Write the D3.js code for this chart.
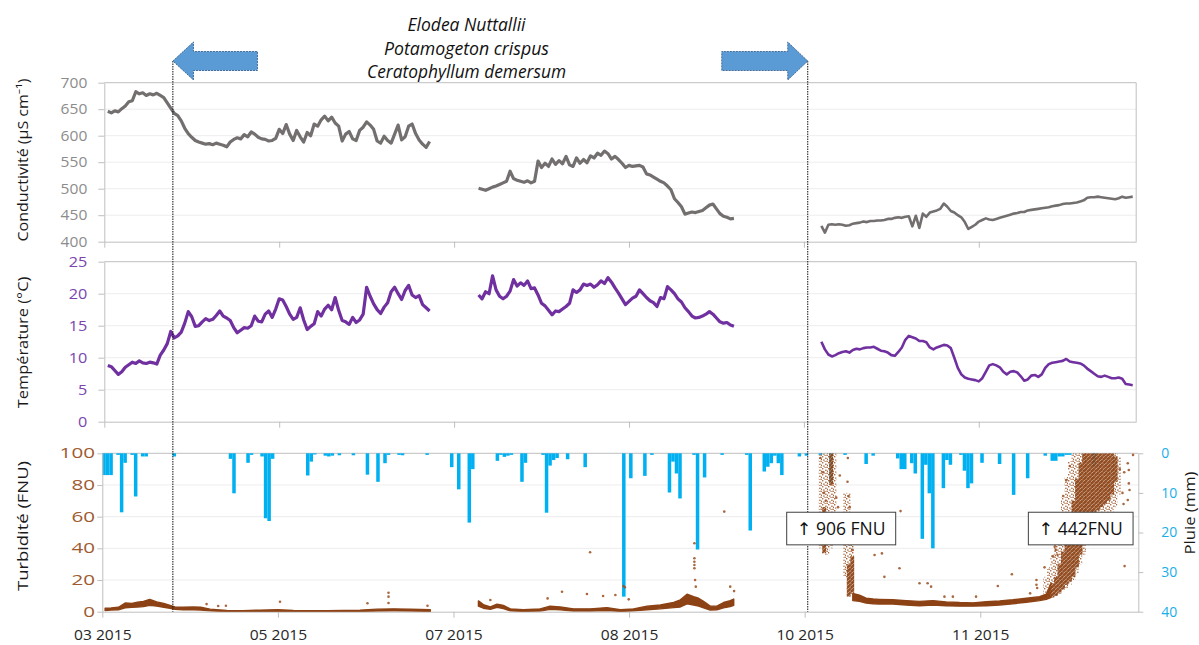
<!DOCTYPE html>
<html>
<head>
<meta charset="utf-8">
<script src="https://cdn.jsdelivr.net/npm/d3@7"></script>
<style>
html,body{margin:0;padding:0;background:#ffffff;}
svg{display:block;}
</style>
</head>
<body>
<svg id="chart" width="1199" height="645"></svg>
<script>
// ================= DATA =================
// x position expressed in days from the start of the axis
const xTickDays = [0, 50, 100, 150, 200, 250];
const xTickLabels = ["03 2015", "05 2015", "07 2015", "08 2015", "10 2015", "11 2015"];
const condTicks = [400, 450, 500, 550, 600, 650, 700];
const tempTicks = [0, 5, 10, 15, 20, 25];
const turbTicks = [0, 20, 40, 60, 80, 100];
const rainTicks = [0, 10, 20, 30, 40];

// Conductivity (µS/cm), one value per day, three segments
const condStart = [1, 107, 205];
const condSeg1 = [646,643,647,645,651,656,664,666,683,679,
  681,676,679,677,680,676,672,662,652,642,
  638,628,614,604,597,591,588,586,584,585,
  583,586,584,582,579,588,593,596,594,602,
  598,607,603,597,594,593,590,591,595,612,
  604,621,603,591,610,598,588,606,600,622,
  618,630,637,628,635,624,618,590,603,608,
  594,591,610,616,626,620,612,590,586,599,
  591,586,603,620,592,598,618,622,604,592,
  584,578,589];
const condSeg2 = [501,499,497,500,503,505,508,511,514,533,
  519,516,514,512,515,511,514,552,540,548,
  542,556,546,553,547,561,545,542,558,548,
  555,549,562,558,567,563,571,566,556,561,
  555,548,540,544,542,543,544,541,528,526,
  522,518,514,511,505,498,481,474,466,452,
  454,456,455,457,459,464,469,471,462,453,
  448,446,443,444];
const condSeg3 = [430,417,432,433,432,433,432,430,431,434,
  435,436,438,437,439,439,440,440,441,443,
  443,445,446,445,447,448,429,449,426,453,
  447,455,457,459,462,472,466,458,455,450,
  446,437,424,428,432,438,441,444,442,441,
  443,445,447,449,451,453,454,456,456,459,
  460,461,462,463,464,465,467,468,469,471,
  472,472,473,474,476,478,483,484,484,485,
  484,483,482,481,480,482,485,483,484,485];

// Temperature (°C), one value per day, three segments
const tempStart = [1, 107, 205];
const tempSeg1 = [8.8,8.6,8.0,7.4,7.8,8.5,8.9,9.3,9.1,9.5,
  9.2,9.1,9.3,9.2,9.0,10.4,11.2,12.2,14.1,13.1,
  13.4,14.0,15.4,17.2,16.4,14.9,15.0,15.6,16.1,15.8,
  16.0,16.6,17.3,16.5,16.2,15.8,14.7,13.9,14.3,14.7,
  14.6,15.0,16.5,15.7,15.6,16.8,17.3,16.3,17.6,19.2,
  19.0,18.0,16.8,16.0,16.3,17.8,15.9,14.4,14.9,15.3,
  17.2,16.5,17.6,18.2,17.5,19.4,17.4,15.8,15.6,15.2,
  16.3,15.5,15.9,16.8,21.0,19.6,18.4,17.5,16.9,17.9,
  18.6,20.3,21.0,20.0,19.1,20.5,21.3,19.8,19.4,19.7,
  18.3,17.8,17.3];
const tempSeg2 = [19.8,19.2,20.3,20.0,22.8,20.6,19.6,19.2,19.6,20.4,
  22.2,21.2,21.7,21.3,22.0,20.8,20.9,19.8,18.5,18.1,
  17.4,16.7,17.3,17.2,17.6,18.0,18.5,20.6,20.2,20.6,
  21.5,21.3,21.5,21.0,21.4,22.0,21.6,22.5,21.8,20.9,
  20.1,19.2,18.3,18.8,19.3,19.6,20.6,20.0,19.4,18.9,
  18.6,18.0,19.4,19.2,21.1,20.6,20.0,19.2,18.7,17.8,
  17.2,16.5,16.2,16.3,16.5,16.8,17.2,16.8,16.2,15.6,
  15.4,15.5,15.1,14.9];
const tempSeg3 = [12.5,11.3,10.5,10.2,10.4,10.7,10.9,11.0,10.8,11.2,
  11.4,11.3,11.5,11.6,11.6,11.7,11.4,11.1,11.0,10.8,
  10.4,10.3,10.9,11.6,12.8,13.4,13.2,13.0,12.6,12.6,
  12.4,11.6,11.3,11.6,11.8,12.0,11.9,11.5,10.0,8.4,
  7.4,6.9,6.7,6.6,6.5,6.3,6.8,7.8,8.8,9.0,
  8.8,8.5,7.8,7.4,7.8,7.9,7.7,7.1,6.4,6.6,
  7.2,7.3,7.0,7.4,8.4,9.0,9.2,9.3,9.4,9.5,
  9.8,9.4,9.3,9.2,9.1,8.8,8.3,7.9,7.5,7.1,
  7.0,7.2,7.0,6.8,6.8,6.9,6.7,5.9,5.8,5.7];

// Daily rain (mm)
const rainDays = [0,1,2,4,5,6,8,9,11,12,
  20,36,37,41,42,45,46,47,48,58,
  59,60,63,64,65,67,71,75,78,80,
  81,84,85,92,99,101,104,105,112,113,
  114,115,116,119,120,125,126,127,128,129,
  132,137,148,150,154,156,161,162,163,164,
  168,169,171,176,183,184,188,189,190,191,
  192,193,198,200,204,207,211,217,219,226,
  227,228,230,231,233,234,235,236,239,240,
  241,244,245,246,247,250,255,259,263,268,
  270,271,272,273,274,275,282];
const rainMm = [5.5,5.5,5.5,0.4,14.9,2.4,0.4,10.9,0.8,0.8,
  0.8,1.4,10.1,2.4,0.4,0.8,16.4,17.1,1.4,5.6,
  2.1,0.3,0.6,0.8,0.6,0.5,0.5,5.4,7.2,2.5,
  0.4,0.4,0.5,0.4,3.5,9.1,17.5,4.0,1.9,0.4,
  0.9,0.6,0.4,7.2,2.4,0.4,15,3.1,1.7,1.2,
  1.5,3.5,36.2,6.3,5.7,0.4,9.9,2.1,5.1,11.4,
  0.4,24.3,6.1,0.4,0.4,19.5,4.6,3.4,2.5,0.6,
  2.5,5.5,0.8,0.6,0.4,7.4,0.4,2.7,0.6,1.3,
  4.0,4.0,2.5,5.1,21.6,2.9,10.1,24.0,8.8,1.7,
  2.9,0.4,4.4,8.8,7.6,2.4,2.7,10.5,6.3,0.6,
  1.9,1.9,0.8,0.8,0.4,0.4,3.2];

// Turbidity (FNU) base band: [day, low, high]
const turbSeg1 = [[0.8,0.8,2.2],[2.5,1.0,2.4],[4.6,1.2,2.8],[6.5,2.5,5.5],[8.4,2.8,5.2],[10,3.0,6.0],
  [11.7,3.2,6.5],[13.5,4.0,7.8],[15.5,3.5,6.2],[17.5,2.8,5.2],[19.3,2.2,4.0],[20.7,1.5,3.0],
  [23,1.2,2.8],[25.9,1.2,3.0],[28,1.0,2.8],[30.7,0.5,1.6],[35.4,0.1,0.8],[40,0.1,0.7],
  [44.9,0.2,1.0],[50,0.2,1.2],[54.4,0.1,0.8],[64,0.1,0.7],[73.4,0.2,1.0],[78.2,0.4,1.6],
  [82.9,0.5,1.8],[87.7,0.4,1.5],[93.4,0.2,1.2]];
const turbSeg2 = [[107.1,3.5,6.8],[108.5,2.2,4.5],[110.5,1.5,3.0],[112.4,2.8,4.8],[114.2,2.0,4.0],
  [116.2,0.5,1.8],[119.9,0.2,1.2],[124.7,0.4,1.8],[127.5,1.5,3.5],[130.4,1.2,3.0],[134.2,0.4,1.8],
  [138.9,0.4,1.8],[143.7,0.8,2.6],[147.5,0.2,1.2],[151.3,0.5,1.8],[155.1,1.2,3.5],[158.9,1.8,4.2],
  [162.7,2.6,5.8],[164.6,3.0,7.5],[166.5,5.0,11.0],[168.4,4.2,9.5],[169.8,3.5,8.5],[171.2,2.5,6.5],
  [173.1,1.0,3.5],[175,1.2,3.5],[176.9,2.5,5.8],[178.8,3.2,7.0],[179.8,4.0,8.0]];
const turbSeg3 = [[213.7,7,11.5],[215.6,6.5,10.5],[217.5,5.5,8.5],[219.5,5.0,8.0],[221.3,4.8,7.8],
  [225.1,4.8,7.5],[228.9,4.2,7.0],[232.7,3.8,6.5],[236.5,4.2,7.0],[240.3,3.8,6.2],[244.1,3.5,5.8],
  [247.9,3.5,5.6],[251.7,3.8,6.3],[255.5,4.2,6.8],[259.3,5.0,7.5],[263.1,6.0,8.5],[266.9,7.0,9.5],
  [268.8,7.8,11],[270.2,9,18]];
// Dense clouds of turbidity points: [day, low, high]
const turbCloud = [[205,37,66],[207,80,100],[212,9.5,30],[213,12,35],
  [270,9,18],[271,10,22],[272,12,30],[273,14,38],[274,17,48],[275,19,58],[276,22,70],[277,28,84],
  [278,36,94],[279,44,100],[280,52,100],[281,58,100],[282,62,100],[283,64,100],[284,66,100],
  [285,68,100],[286,70,100],[287,74,100],[288,82,98]];
// Sparse envelopes of turbidity points: [day, low, high]
const turbCloudSparse = [[204,40,100],[205,36,100],[206,36,100],[207,40,100],[208,60,100],
  [211,22,75],[212,10,75],[213,10,60],
  [268,8,22],[269,8,28],[270,9,36],[271,10,46],[272,11,58],[273,13,72],[274,15,85],[275,17,95],
  [276,20,100],[277,24,100],[278,30,100],[279,36,100],[280,42,100],[281,46,100],[282,50,100],
  [283,52,100],[284,55,100],[285,56,100],[286,58,100],[287,62,100],[288,66,100],[289,74,98]];
// Isolated turbidity points: [day, value]
const turbScatter = [[29.7,4.8],[33,3.6],[35.2,3.8],[50.6,6.3],[75.5,5.3],[81.5,12],[81.5,9.5],[81.5,5.5],[92.6,3.8],
  [110.5,7.4],[126.8,8.4],[130.9,12.6],[138,11.2],[138.9,37.5],[142.6,9.9],[146.1,10.5],[148.4,16.2],
  [148.8,15.4],[149.9,7.8],[168.6,43.2],[168.6,33.7],[168.6,31.5],[168.6,29.5],[168.6,27.4],[168.8,20],
  [169,15.8],[177.1,63.2],[178.8,15.8],[179.9,13],
  [204.5,97],[205.2,88],[205.5,75],[206,70],[206.3,58],[209,72],[209.5,66],[210,86],[212.3,97],
  [212.5,73],[212.8,66],[213,58],[213.2,50],[213.4,44],[213.6,39],[212.2,82],
  [219.9,35.8],[222,36.8],[222.7,22],[227,27.4],[227.3,63.5],[232.7,18],[235,18],[236,15.8],
  [239.8,9.5],[242.2,9.5],[248.8,9.5],[255,16.2],[259,23.6],[264.2,11.6],[266,20],[266,17],
  [266.2,15],[268.3,28],[270.7,35],[271.2,41],[271.5,39],[272,36],[272.6,56],[273.6,73],
  [274.5,83],[275.5,92],[289,48],[288.8,55],[289.5,60],[289.7,90],[291,88],[291.1,28.8],
  [292,93.7],[292.3,89.5],[292.5,76.8],[292,70.5],[292.3,81],[293.5,99],[290.5,75],[290.8,68]];

const plantNames = ["Elodea Nuttallii", "Potamogeton crispus", "Ceratophyllum demersum"];
const periodDays = [19.6, 201.1];
const annotDays = [210.4, 278.6];
const annotValues = [52.5, 52.5];
const annotTexts = ["\u2191 906 FNU", "\u2191 442FNU"];

// ================= DRAWING =================
const svg = d3.select('#chart');
const FONT = "'Open Sans', 'Noto Sans', 'DejaVu Sans', sans-serif";
const AXC = '#BFBFBF', GRID = '#EDEDED';
const BROWN = '#8C4214';

const xTop = d3.scaleLinear().domain([0, 295]).range([104.3, 1136.2]);
const xBot = d3.scaleLinear().domain([0, 295]).range([102.3, 1138.3]);
const yCond = d3.scaleLinear().domain([400, 700]).range([241.7, 82.7]);
const yTemp = d3.scaleLinear().domain([0, 25]).range([421.7, 261.7]);
const yTurb = d3.scaleLinear().domain([0, 100]).range([611.7, 453.3]);
const yRain = d3.scaleLinear().domain([0, 40]).range([453.3, 611.7]);

const defs = svg.append('defs');
const pat = defs.append('pattern').attr('id', 'stip').attr('width', 4).attr('height', 4)
  .attr('patternUnits', 'userSpaceOnUse');
pat.append('rect').attr('width', 4).attr('height', 4).attr('fill', BROWN);
[[0, 0], [2, 2.5], [3, 0.8], [1, 3.3]].forEach(p => pat.append('rect').attr('x', p[0]).attr('y', p[1])
  .attr('width', 0.9).attr('height', 0.9).attr('fill', '#ffffff').attr('opacity', 0.55));
const pat2 = defs.append('pattern').attr('id', 'sparse').attr('width', 6).attr('height', 6)
  .attr('patternUnits', 'userSpaceOnUse');
[[0, 0], [3.2, 1.6], [1.2, 3.4], [4.4, 4.6], [2.4, 5.2], [5, 2.6]].forEach(p => pat2.append('rect')
  .attr('x', p[0]).attr('y', p[1]).attr('width', 1.4).attr('height', 1.4).attr('fill', '#9A4E1E').attr('opacity', 0.85));
defs.append('clipPath').attr('id', 'clip3').append('rect')
  .attr('x', xBot(0)).attr('y', yTurb(100)).attr('width', xBot(295) - xBot(0)).attr('height', yTurb(0) - yTurb(100));

function hline(x1, x2, y, c) {
  svg.append('line').attr('x1', x1).attr('x2', x2).attr('y1', y).attr('y2', y)
    .attr('stroke', c).attr('stroke-width', 1);
}
function vline(x, y1, y2, c) {
  svg.append('line').attr('x1', x).attr('x2', x).attr('y1', y1).attr('y2', y2)
    .attr('stroke', c).attr('stroke-width', 1);
}
function styleAxis(g, color, perChar, size) {
  g.attr('font-family', FONT).attr('font-size', size || 14);
  g.select('.domain').attr('stroke', AXC);
  g.selectAll('.tick line').attr('stroke', AXC);
  g.selectAll('.tick text').attr('fill', color);
  if (perChar) {
    g.selectAll('.tick text').attr('textLength', d => String(d).length * perChar)
      .attr('lengthAdjust', 'spacingAndGlyphs');
  }
}

// ---- Panel 1 : conductivity ----
condTicks.filter(t => t > 400 && t < 700).forEach(t => hline(xTop(0), xTop(295), yCond(t), GRID));
hline(xTop(0), xTop(295), yCond(700), AXC);
vline(xTop(295), yCond(700), yCond(400), AXC);
const gc = svg.append('g').attr('transform', `translate(${xTop(0)},0)`)
  .call(d3.axisLeft(yCond).tickValues(condTicks).tickSize(6).tickSizeOuter(0).tickPadding(11));
styleAxis(gc, '#8C8C8C', 8.9);
const gcx = svg.append('g').attr('transform', `translate(0,${yCond(400)})`)
  .call(d3.axisBottom(xTop).tickValues(xTickDays).tickSize(6).tickSizeOuter(0).tickFormat(''));
styleAxis(gcx, '#000');

// ---- Panel 2 : temperature ----
tempTicks.filter(t => t > 0 && t < 25).forEach(t => hline(xTop(0), xTop(295), yTemp(t), GRID));
hline(xTop(0), xTop(295), yTemp(25), AXC);
vline(xTop(295), yTemp(25), yTemp(0), AXC);
const gt = svg.append('g').attr('transform', `translate(${xTop(0)},0)`)
  .call(d3.axisLeft(yTemp).tickValues(tempTicks).tickSize(6).tickSizeOuter(0).tickPadding(11));
styleAxis(gt, '#7B45AE', 9.3);
const gtx = svg.append('g').attr('transform', `translate(0,${yTemp(0)})`)
  .call(d3.axisBottom(xTop).tickValues(xTickDays).tickSize(6).tickSizeOuter(0).tickFormat(''));
styleAxis(gtx, '#000');

// ---- Panel 3 : turbidity + rain ----
turbTicks.filter(t => t > 0 && t < 100).forEach(t => hline(xBot(0), xBot(295), yTurb(t), GRID));
hline(xBot(0), xBot(295), yTurb(100), AXC);

// rain bars
svg.append('g').selectAll('rect').data(rainDays.map((d, i) => [d, rainMm[i]])).join('rect')
  .attr('x', d => xBot(d[0])).attr('width', d => xBot(d[0] + 1) - xBot(d[0]))
  .attr('y', yRain(0)).attr('height', d => yRain(d[1]) - yRain(0))
  .attr('fill', '#00B0F0');

const gl = svg.append('g').attr('transform', `translate(${xBot(0)},0)`)
  .call(d3.axisLeft(yTurb).tickValues(turbTicks).tickSize(5).tickSizeOuter(0).tickPadding(2.3));
styleAxis(gl, '#9E5B2F', 11.8);
const gr = svg.append('g').attr('transform', `translate(${xBot(295)},0)`)
  .call(d3.axisRight(yRain).tickValues(rainTicks).tickSize(5).tickSizeOuter(0).tickPadding(18));
styleAxis(gr, '#1AAEE8', 8.0);
const gb = svg.append('g').attr('transform', `translate(0,${yTurb(0)})`)
  .call(d3.axisBottom(xBot).tickValues(xTickDays).tickSize(6).tickSizeOuter(0)
    .tickFormat((d, i) => xTickLabels[i]));
styleAxis(gb, '#262626');
gb.selectAll('.tick text').attr('y', 640 - yTurb(0)).attr('dy', 0)
  .attr('font-size', 14.5).attr('textLength', 57.5).attr('lengthAdjust', 'spacingAndGlyphs');

// turbidity
const turbG = svg.append('g').attr('clip-path', 'url(#clip3)');
const area = d3.area().x(d => xBot(d[0])).y0(d => yTurb(d[1])).y1(d => yTurb(d[2]));
[turbSeg1, turbSeg2, turbSeg3].forEach(seg => {
  turbG.append('path').datum(seg).attr('d', area)
    .attr('fill', BROWN).attr('stroke', BROWN).attr('stroke-width', 1.4).attr('stroke-linejoin', 'round');
});
turbG.selectAll('rect.sparse').data(turbCloudSparse).join('rect').attr('class', 'sparse')
  .attr('x', d => xBot(d[0])).attr('width', d => xBot(d[0] + 1.05) - xBot(d[0]))
  .attr('y', d => yTurb(d[2])).attr('height', d => yTurb(d[1]) - yTurb(d[2]))
  .attr('fill', 'url(#sparse)');
turbG.selectAll('rect.cloud').data(turbCloud).join('rect').attr('class', 'cloud')
  .attr('x', d => xBot(d[0])).attr('width', d => xBot(d[0] + 1.1) - xBot(d[0]))
  .attr('y', d => yTurb(d[2])).attr('height', d => yTurb(d[1]) - yTurb(d[2]))
  .attr('fill', 'url(#stip)').attr('opacity', 0.9);
turbG.selectAll('circle').data(turbScatter).join('circle')
  .attr('cx', d => xBot(d[0])).attr('cy', d => yTurb(d[1])).attr('r', 1.3)
  .attr('fill', '#9A4E1E').attr('opacity', 0.85);

// conductivity lines (first two segments are noisier -> wider trace)
const segWidth = [3.2, 3.2, 2.6];
const lineC = d3.line().x(d => xTop(d[0])).y(d => yCond(d[1]));
[condSeg1, condSeg2, condSeg3].forEach((seg, k) => {
  svg.append('path').datum(seg.map((v, i) => [condStart[k] + i, v])).attr('d', lineC)
    .attr('fill', 'none').attr('stroke', '#736f6f').attr('stroke-width', segWidth[k]).attr('stroke-linejoin', 'round');
});
// temperature lines
const lineT = d3.line().x(d => xTop(d[0])).y(d => yTemp(d[1]));
[tempSeg1, tempSeg2, tempSeg3].forEach((seg, k) => {
  svg.append('path').datum(seg.map((v, i) => [tempStart[k] + i, v])).attr('d', lineT)
    .attr('fill', 'none').attr('stroke', '#7030A0').attr('stroke-width', segWidth[k]).attr('stroke-linejoin', 'round');
});

// period markers (dotted lines + arrows)
periodDays.forEach(d => {
  svg.append('line').attr('x1', xTop(d)).attr('x2', xTop(d)).attr('y1', 61).attr('y2', yTurb(0))
    .attr('stroke', '#111').attr('stroke-width', 1).attr('stroke-dasharray', '1.5,1');
});
const xl = xTop(periodDays[0]), xr = xTop(periodDays[1]);
const arrowL = [[xl, 61], [xl + 20.6, 42], [xl + 20.6, 51.5], [xl + 84.6, 51.5], [xl + 84.6, 70.5], [xl + 20.6, 70.5], [xl + 20.6, 80]];
const arrowR = [[xr, 61], [xr - 20, 42], [xr - 20, 51.5], [xr - 86, 51.5], [xr - 86, 70.5], [xr - 20, 70.5], [xr - 20, 80]];
[arrowL, arrowR].forEach(p => {
  svg.append('polygon').attr('points', p.map(q => q.join(',')).join(' '))
    .attr('fill', '#5B9BD5').attr('stroke', '#3A6390').attr('stroke-width', 0.9).attr('stroke-dasharray', '2,1');
});

// header species names
const hdrY = [31, 54.5, 77.5], hdrLen = [118, 165, 199];
plantNames.forEach((t, i) => {
  svg.append('text').attr('x', 466.5).attr('y', hdrY[i]).attr('text-anchor', 'middle')
    .attr('font-family', FONT).attr('font-style', 'italic').attr('font-size', 18)
    .attr('fill', '#111').attr('textLength', hdrLen[i]).attr('lengthAdjust', 'spacingAndGlyphs').text(t);
});

// axis titles
function vtitle(txt, x, y, len, color, rot) {
  svg.append('text').attr('transform', `translate(${x},${y}) rotate(${rot})`)
    .attr('text-anchor', 'middle').attr('font-family', FONT).attr('font-size', 14.5)
    .attr('fill', color).attr('textLength', len).attr('lengthAdjust', 'spacingAndGlyphs').text(txt);
}
vtitle('Conductivité (µS cm\u207B\u00B9)', 27.5, 160, 163, '#1a1a1a', -90);
vtitle('Température (°C)', 27.5, 342.5, 131.6, '#1a1a1a', -90);
vtitle('Turbidité (FNU)', 27.5, 526, 130, '#1a1a1a', -90);
vtitle('Pluie (mm)', 1195, 513, 83, '#1a1a1a', -90);

// annotation boxes
const boxW = [109, 104.7];
annotTexts.forEach((t, i) => {
  const cx = xBot(annotDays[i]), cy = yTurb(annotValues[i]);
  svg.append('rect').attr('x', cx - boxW[i] / 2).attr('y', cy - 16.3).attr('width', boxW[i]).attr('height', 32.6)
    .attr('fill', '#ffffff').attr('stroke', '#404040').attr('stroke-width', 1);
  svg.append('text').attr('x', cx).attr('y', cy + 6.5).attr('text-anchor', 'middle')
    .attr('font-family', FONT).attr('font-size', 17.5).attr('fill', '#111').text(t);
});
</script>
</body>
</html>
